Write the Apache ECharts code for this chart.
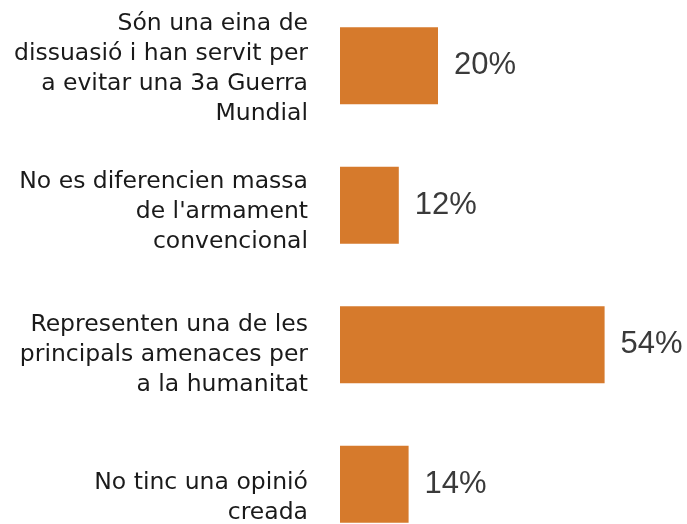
<!DOCTYPE html>
<html>
<head>
<meta charset="utf-8">
<script src="https://cdn.jsdelivr.net/npm/echarts@6/dist/echarts.min.js"></script>
<style>
html,body{margin:0;padding:0;background:#fff;}
#chart{width:687px;height:524px;}
</style>
</head>
<body>
<div id="chart"></div>
<script>
// Opinions about nuclear weapons (share of respondents)
const categories = [
  "Són una eina de\ndissuasió i han servit per\na evitar una 3a Guerra\nMundial",
  "No es diferencien massa\nde l'armament\nconvencional",
  "Representen una de les\nprincipals amenaces per\na la humanitat",
  "No tinc una opinió\ncreada"
];
const values = [20, 12, 54, 14];

const chart = echarts.init(document.getElementById('chart'), null, { renderer: 'canvas' });
chart.setOption({
  animation: false,
  grid: [
    // bars
    { left: 340, width: 343, top: -4, height: 558, containLabel: false, outerBoundsMode: 'none' },
    // category text column, spaced a little more loosely than the bars
    { left: 340, width: 343, top: -2.5, height: 572, containLabel: false, outerBoundsMode: 'none' }
  ],
  xAxis: [
    { type: 'value', min: 0, max: 70, show: false, gridIndex: 0 },
    { type: 'value', min: 0, max: 70, show: false, gridIndex: 1 }
  ],
  yAxis: [
    {
      type: 'category', gridIndex: 0, inverse: true, data: categories,
      axisLine: { show: false }, axisTick: { show: false }, axisLabel: { show: false }
    },
    {
      type: 'category', gridIndex: 1, inverse: true, data: categories,
      axisLine: { show: false },
      axisTick: { show: false },
      axisLabel: {
        margin: 32,
        color: '#1a1a1a',
        fontFamily: '"DejaVu Sans", "Open Sans", sans-serif',
        fontSize: 23.5,
        lineHeight: 30,
        align: 'right'
      }
    }
  ],
  series: [{
    type: 'bar',
    xAxisIndex: 0,
    yAxisIndex: 0,
    data: values,
    barWidth: 77,
    itemStyle: { color: '#D67A2C' },
    label: {
      show: true,
      position: 'right',
      distance: 16,
      formatter: '{c}%',
      color: '#3a3a3a',
      fontFamily: 'Arial, "Liberation Sans", Helvetica, sans-serif',
      fontSize: 31
    }
  }]
});
</script>
</body>
</html>
